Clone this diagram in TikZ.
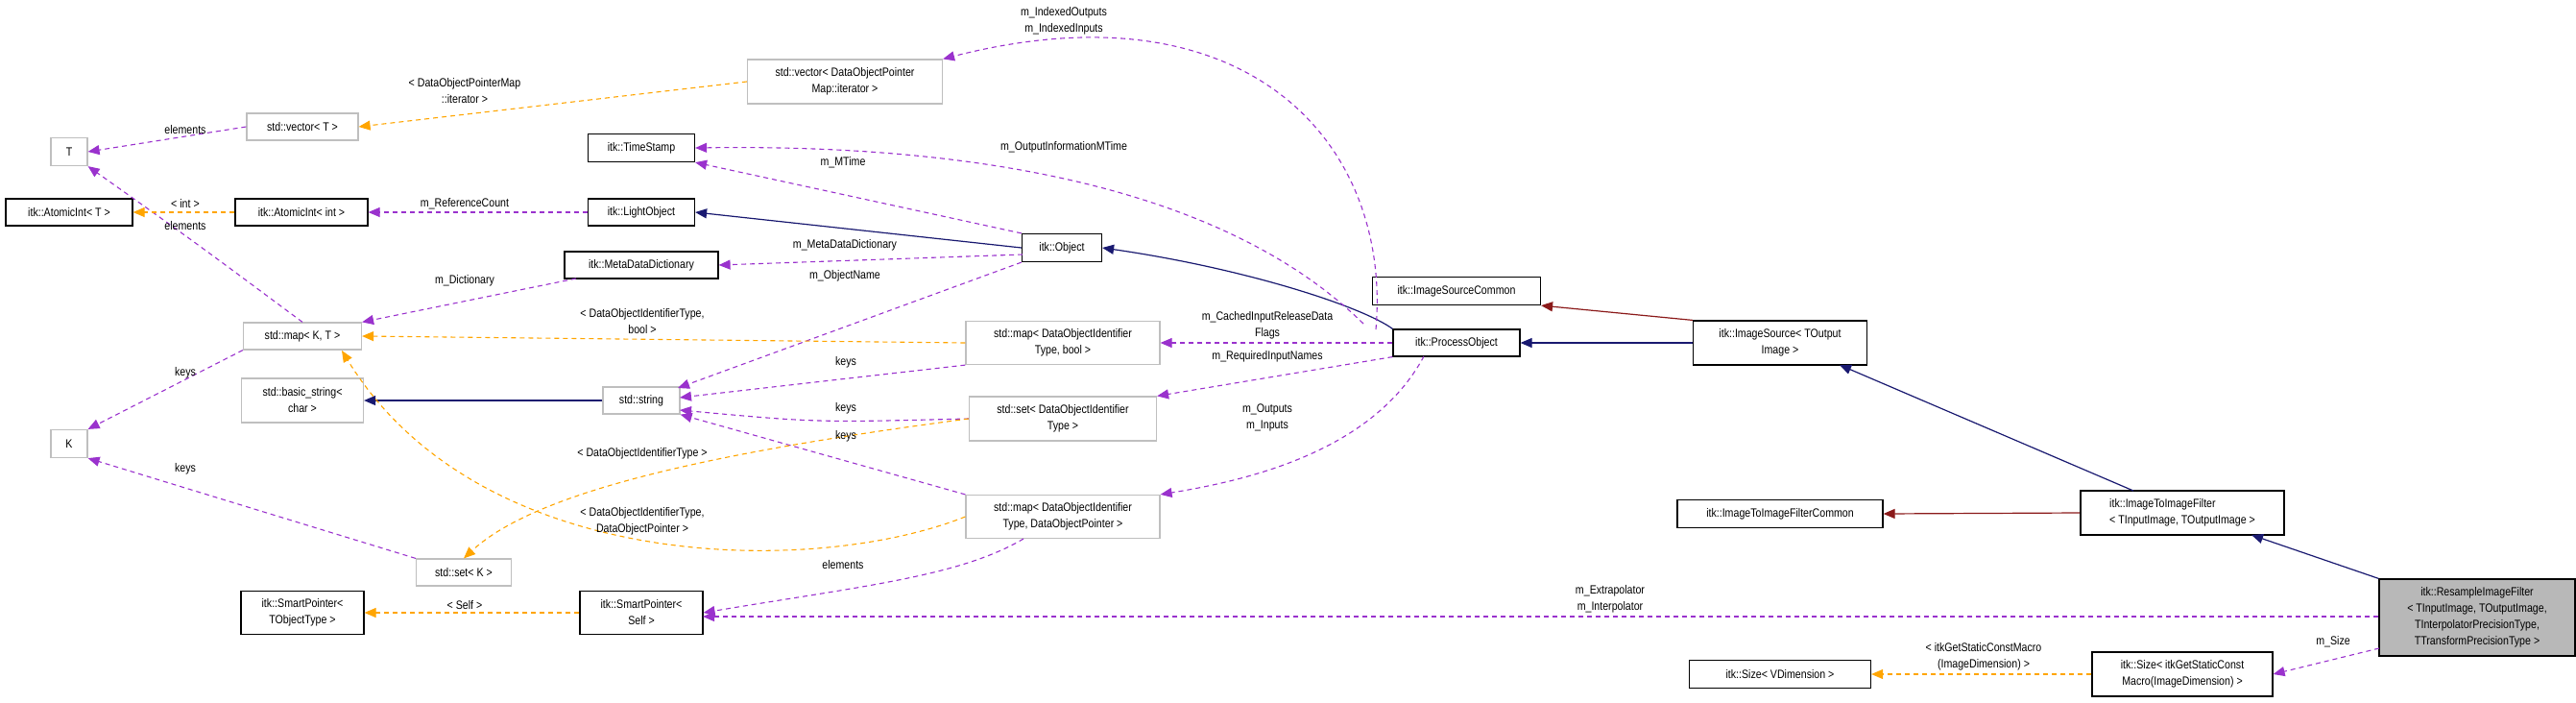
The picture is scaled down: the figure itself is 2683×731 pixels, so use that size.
\documentclass[tikz,border=0pt]{standalone}
\usepackage{fontspec}
\setmainfont{Liberation Sans}[FakeStretch=0.85]
\usetikzlibrary{arrows.meta}
\definecolor{usecol}{HTML}{9A32CD}
\definecolor{tplcol}{HTML}{FFA500}
\definecolor{inhcol}{HTML}{191970}
\definecolor{prvcol}{HTML}{8B1A1A}
\definecolor{grayline}{HTML}{BFBFBF}
\tikzset{
  cls/.style={draw=black, line width=1.2pt, inner sep=0pt, align=center, font=\fontsize{12.5}{17}\selectfont},
  tcls/.style={cls, draw=grayline},
  hl/.style={cls, fill=black!28},
  lbl/.style={inner sep=0pt, align=center, font=\fontsize{12.5}{17}\selectfont},
  tip/.style={-{Triangle[length=12pt,width=10pt,fill=#1]}},
  inh/.style={tip=inhcol, draw=inhcol, line width=1.2pt},
  prv/.style={tip=prvcol, draw=prvcol, line width=1.2pt},
  mem/.style={tip=usecol, draw=usecol, line width=1.1pt, dash pattern=on 5pt off 4pt},
  tpl/.style={tip=tplcol, draw=tplcol, line width=1.1pt, dash pattern=on 5pt off 4pt},
}
\begin{document}
\begin{tikzpicture}[x=1pt,y=-1pt]
\useasboundingbox (0,0) rectangle (2683,731);
% left column
\node[tcls, minimum width=38, minimum height=29] (T) at (72,158) {T};
\node[cls, minimum width=132, minimum height=28] (aiT) at (72,221) {itk::AtomicInt< T >};
\node[tcls, minimum width=38, minimum height=29] (K) at (72,462) {K};
\node[tcls, minimum width=116, minimum height=28] (vecT) at (315,132) {std::vector< T >};
\node[cls, minimum width=138, minimum height=28] (aiInt) at (314,221) {itk::AtomicInt< int >};
\node[tcls, minimum width=123, minimum height=28] (mapKT) at (315,350) {std::map< K, T >};
\node[tcls, minimum width=127, minimum height=46] (bstr) at (315,417) {std::basic\_string<\\char >};
\node[tcls, minimum width=99, minimum height=28] (setK) at (483,596) {std::set< K >};
\node[cls, minimum width=128, minimum height=45] (spT) at (315,638) {itk::SmartPointer<\\TObjectType >};
% middle column
\node[cls, minimum width=111, minimum height=29] (ts) at (668,154) {itk::TimeStamp};
\node[cls, minimum width=111, minimum height=28] (light) at (668,221) {itk::LightObject};
\node[cls, minimum width=160, minimum height=28] (mdd) at (668,276) {itk::MetaDataDictionary};
\node[tcls, minimum width=80, minimum height=28] (str) at (668,417) {std::string};
\node[cls, minimum width=128, minimum height=45] (spS) at (668,638) {itk::SmartPointer<\\Self >};
\node[tcls, minimum width=203, minimum height=46] (vecIt) at (880,85) {std::vector< DataObjectPointer\\Map::iterator >};
\node[cls, minimum width=83, minimum height=29] (obj) at (1106,258) {itk::Object};
\node[tcls, minimum width=202, minimum height=45] (mapB) at (1107,357) {std::map< DataObjectIdentifier\\Type, bool >};
\node[tcls, minimum width=195, minimum height=46] (setD) at (1107,436) {std::set< DataObjectIdentifier\\Type >};
\node[tcls, minimum width=202, minimum height=45] (mapP) at (1107,538) {std::map< DataObjectIdentifier\\Type, DataObjectPointer >};
\node[cls, minimum width=132, minimum height=28] (po) at (1517,357) {itk::ProcessObject};
\node[cls, minimum width=175, minimum height=29] (isc) at (1517,303) {itk::ImageSourceCommon};
% right columns
\node[cls, minimum width=181, minimum height=46] (is) at (1854,357) {itk::ImageSource< TOutput\\Image >};
\node[cls, minimum width=214, minimum height=29] (i2ic) at (1854,535) {itk::ImageToImageFilterCommon};
\node[cls, minimum width=189, minimum height=29] (sizeV) at (1854,702) {itk::Size< VDimension >};
\node[cls, minimum width=212, minimum height=46, align=left] (i2i) at (2273,534) {itk::ImageToImageFilter\\< TInputImage, TOutputImage >};
\node[cls, minimum width=188, minimum height=46] (size) at (2273,702) {itk::Size< itkGetStaticConst\\Macro(ImageDimension) >};
\node[hl, minimum width=204, minimum height=80] (res) at (2580,643) {itk::ResampleImageFilter\\< TInputImage, TOutputImage,\\TInterpolatorPrecisionType,\\TTransformPrecisionType >};
% inheritance
\draw[inh] (str.west) -- (bstr.east);
\draw[inh] (obj.west) -- (light.east);
\draw[inh] (po.north west) .. controls (1420,320) and (1300,280) .. (obj.east);
\draw[inh] (is.west) -- (po.east);
\draw[prv] (is.north west) -- (isc.south east);
\draw[inh] (2222,511) -- (1916,380);
\draw[prv] (i2i.west) -- (i2ic.east);
\draw[inh] (res.north west) -- (2345,557);
% members
\draw[mem] (vecT.west) -- (T.east);
\draw[mem] (mapKT.north) .. controls (200,250) .. (T.south east);
\draw[mem] (light.west) -- (aiInt.east);
\draw[mem] (obj.north west) -- (ts.south east);
\draw[mem] (1420,337) .. controls (1270,190) and (1000,150) .. (ts.east);
\draw[mem] (1065,265) -- (mdd.east);
\draw[mem] (obj.south west) -- (706,404);
\draw[mem] (600,290) -- (mapKT.north east);
\draw[mem] (po.west) -- (mapB.east);
\draw[mem] (po.south west) -- (setD.north east);
\draw[mem] (1483,371) .. controls (1430,470) and (1300,500) .. (mapP.north east);
\draw[mem] (1433,343) .. controls (1450,150) and (1300,-20) .. (vecIt.north east);
\draw[mem] (mapB.south west) -- (708,414);
\draw[mem] (setD.west) .. controls (850,440) .. (708,427);
\draw[mem] (mapP.north west) -- (str.south east);
\draw[mem] (1066,561) .. controls (1000,600) and (900,610) .. (spS.east);
\draw[mem] (res.west |- 0,642) -- (732,642);
\draw[mem] (2478,675) -- (size.east);
\draw[mem] (mapKT.south west) -- (K.north east);
\draw[mem] (setK.north west) -- (K.south east);
% templates
\draw[tpl] (vecIt.west) -- (vecT.east);
\draw[tpl] (aiInt.west) -- (aiT.east);
\draw[tpl] (mapB.west) -- (mapKT.east);
\draw[tpl] (setD.west) .. controls (750,470) and (560,510) .. (setK.north);
\draw[tpl] (mapP.west) .. controls (850,600) and (500,600) .. (356,365);
\draw[tpl] (spS.west) -- (spT.east);
\draw[tpl] (size.west) -- (sizeV.east);
% labels
\node[lbl] at (193,135) {elements};
\node[lbl] at (484,95) {< DataObjectPointerMap\\::iterator >};
\node[lbl] at (193,235) {elements};
\node[lbl] at (193,212) {< int >};
\node[lbl] at (484,212) {m\_ReferenceCount};
\node[lbl] at (878,169) {m\_MTime};
\node[lbl] at (1108,153) {m\_OutputInformationMTime};
\node[lbl] at (880,255) {m\_MetaDataDictionary};
\node[lbl] at (880,287) {m\_ObjectName};
\node[lbl] at (484,292) {m\_Dictionary};
\node[lbl] at (669,335) {< DataObjectIdentifierType,\\bool >};
\node[lbl] at (1320,339) {m\_CachedInputReleaseData\\Flags};
\node[lbl] at (1320,371) {m\_RequiredInputNames};
\node[lbl] at (1320,435) {m\_Outputs\\m\_Inputs};
\node[lbl] at (1108,22) {m\_IndexedOutputs\\m\_IndexedInputs};
\node[lbl] at (1677,624) {m\_Extrapolator\\m\_Interpolator};
\node[lbl] at (2430,668) {m\_Size};
\node[lbl] at (2066,684) {< itkGetStaticConstMacro\\(ImageDimension) >};
\node[lbl] at (881,377) {keys};
\node[lbl] at (881,425) {keys};
\node[lbl] at (881,454) {keys};
\node[lbl] at (669,472) {< DataObjectIdentifierType >};
\node[lbl] at (669,543) {< DataObjectIdentifierType,\\DataObjectPointer >};
\node[lbl] at (878,588) {elements};
\node[lbl] at (484,630) {< Self >};
\node[lbl] at (193,388) {keys};
\node[lbl] at (193,488) {keys};
\end{tikzpicture}
\end{document}
